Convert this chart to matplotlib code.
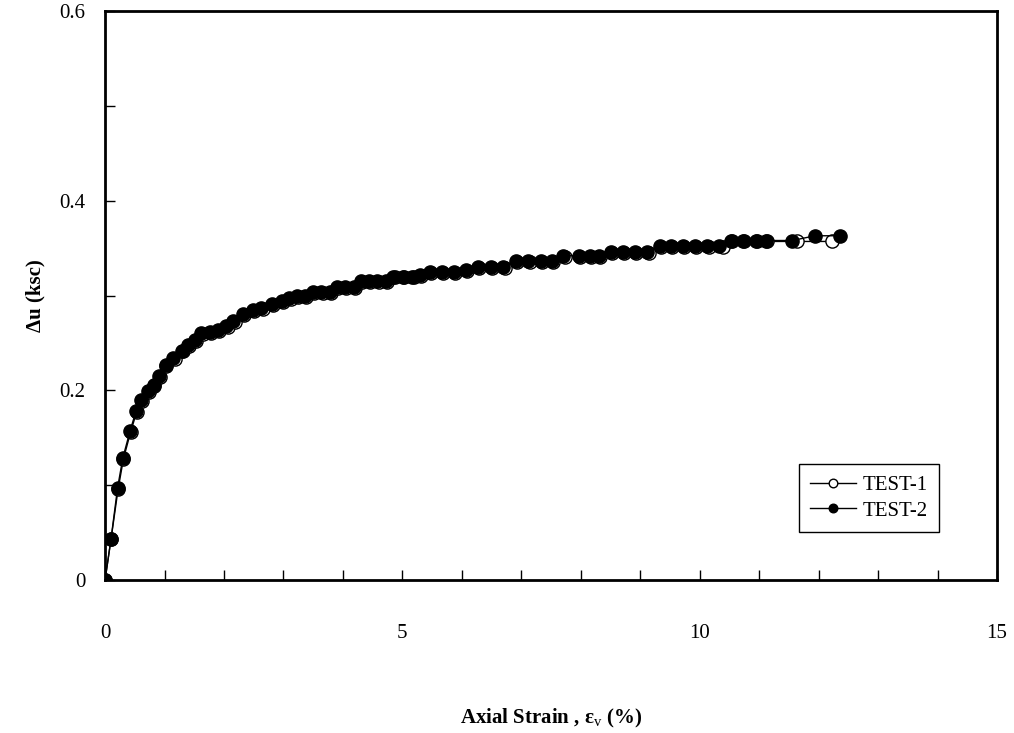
import matplotlib
matplotlib.use("Agg")
import matplotlib.pyplot as plt
from matplotlib.ticker import MultipleLocator, FixedLocator

plt.rcParams['font.family'] = ['Liberation Serif', 'DejaVu Serif']
plt.rcParams['mathtext.fontset'] = 'custom'
plt.rcParams['mathtext.rm'] = 'Liberation Serif'
plt.rcParams['mathtext.it'] = 'Liberation Serif:italic'
plt.rcParams['mathtext.bf'] = 'Liberation Serif:bold'

# Data
strain_2 = [0, 0.10, 0.21, 0.30, 0.42, 0.52, 0.61, 0.73, 0.82, 0.91, 1.02, 1.15, 1.29,
            1.40, 1.51, 1.62, 1.76, 1.90, 2.04, 2.16, 2.32, 2.49, 2.63, 2.80, 2.97, 3.10,
            3.22, 3.36, 3.50, 3.64, 3.78, 3.90, 4.04, 4.18, 4.30, 4.44, 4.58, 4.72, 4.85,
            5.01, 5.17, 5.29, 5.46, 5.67, 5.87, 6.07, 6.27, 6.49, 6.70, 6.91, 7.12, 7.33,
            7.51, 7.71, 7.97, 8.15, 8.31, 8.51, 8.71, 8.91, 9.12, 9.33, 9.52, 9.72, 9.92,
            10.13, 10.33, 10.53, 10.73, 10.94, 11.12, 11.56, 11.94, 12.36]
du_2 = [0, 0.043, 0.097, 0.129, 0.157, 0.178, 0.190, 0.199, 0.206, 0.215, 0.227, 0.234,
        0.242, 0.248, 0.253, 0.260, 0.261, 0.264, 0.268, 0.273, 0.280, 0.285, 0.287, 0.291,
        0.294, 0.297, 0.299, 0.299, 0.304, 0.304, 0.304, 0.309, 0.309, 0.309, 0.315, 0.315,
        0.315, 0.315, 0.320, 0.320, 0.320, 0.322, 0.325, 0.325, 0.325, 0.327, 0.330, 0.330,
        0.330, 0.336, 0.336, 0.336, 0.336, 0.342, 0.342, 0.342, 0.342, 0.346, 0.346, 0.346,
        0.346, 0.352, 0.352, 0.352, 0.352, 0.352, 0.352, 0.358, 0.358, 0.358, 0.358, 0.358,
        0.363, 0.363]

strain_1 = [0, 0.10, 0.22, 0.31, 0.43, 0.53, 0.62, 0.74, 0.83, 0.92, 1.03, 1.17, 1.31,
            1.42, 1.53, 1.64, 1.78, 1.92, 2.06, 2.18, 2.34, 2.51, 2.65, 2.82, 2.99, 3.12,
            3.24, 3.38, 3.52, 3.66, 3.80, 3.92, 4.06, 4.20, 4.32, 4.46, 4.60, 4.74, 4.87,
            5.03, 5.19, 5.31, 5.48, 5.69, 5.89, 6.09, 6.29, 6.51, 6.72, 6.93, 7.14, 7.35,
            7.53, 7.73, 7.99, 8.17, 8.33, 8.53, 8.73, 8.93, 9.14, 9.35, 9.54, 9.74, 9.94,
            10.15, 10.40, 10.55, 10.75, 10.96, 11.14, 11.63, 12.23]
du_1 = [0, 0.043, 0.096, 0.128, 0.156, 0.177, 0.189, 0.198, 0.205, 0.214, 0.226, 0.233,
        0.241, 0.247, 0.252, 0.259, 0.260, 0.263, 0.267, 0.272, 0.279, 0.284, 0.286, 0.290,
        0.293, 0.296, 0.298, 0.298, 0.303, 0.303, 0.303, 0.308, 0.308, 0.308, 0.314, 0.314,
        0.314, 0.314, 0.319, 0.319, 0.319, 0.321, 0.324, 0.324, 0.324, 0.326, 0.329, 0.329,
        0.329, 0.335, 0.335, 0.335, 0.335, 0.341, 0.341, 0.341, 0.341, 0.345, 0.345, 0.345,
        0.345, 0.351, 0.351, 0.351, 0.351, 0.351, 0.351, 0.357, 0.357, 0.357, 0.357, 0.357,
        0.357]

x_labels = [0, 5, 10, 15]
y_labels = [0, 0.2, 0.4, 0.6]

fig = plt.figure(figsize=(10.14, 7.33), dpi=100)
ax = fig.add_axes([0.1036, 0.2087, 0.8796, 0.7763])

ax.plot(strain_1, du_1, color='black', lw=1, marker='o', ms=9.5,
        mfc='white', mec='black', mew=1, label='TEST-1')
ax.plot(strain_2, du_2, color='black', lw=1, marker='o', ms=9.5,
        mfc='black', mec='black', mew=1, label='TEST-2')

ax.set_xlim(0, 15)
ax.set_ylim(0, 0.6)

# ticks every 1 / 0.1, labels only on some
ax.xaxis.set_major_locator(FixedLocator(x_labels))
ax.xaxis.set_minor_locator(MultipleLocator(1))
ax.yaxis.set_major_locator(FixedLocator(y_labels))
ax.yaxis.set_minor_locator(MultipleLocator(0.1))
ax.set_xticklabels(['0', '5', '10', '15'])
ax.set_yticklabels(['0', '0.2', '0.4', '0.6'])
ax.tick_params(axis='both', which='both', direction='in', length=7, width=1, labelsize=15)
ax.tick_params(axis='x', which='major', pad=32)
ax.tick_params(axis='y', which='major', pad=14)
ax.tick_params(top=False, right=False)

for s in ax.spines.values():
    s.set_linewidth(2)

ax.set_xlabel(r'Axial Strain , $\mathbf{\varepsilon}_{\mathrm{v}}$ (%)', fontsize=15,
              fontweight='bold', labelpad=46)
ax.set_ylabel('Δu (ksc)', fontsize=15, fontweight='bold', labelpad=10)

leg = ax.legend(loc='lower right', bbox_to_anchor=(0.935, 0.084), borderaxespad=0,
                fontsize=15, frameon=True, fancybox=False, edgecolor='black',
                framealpha=1, handlelength=2.2, handletextpad=0.3, borderpad=0.55,
                labelspacing=0.3, markerscale=0.65)
leg.get_frame().set_linewidth(1)

fig.savefig('out.png', dpi=100)
